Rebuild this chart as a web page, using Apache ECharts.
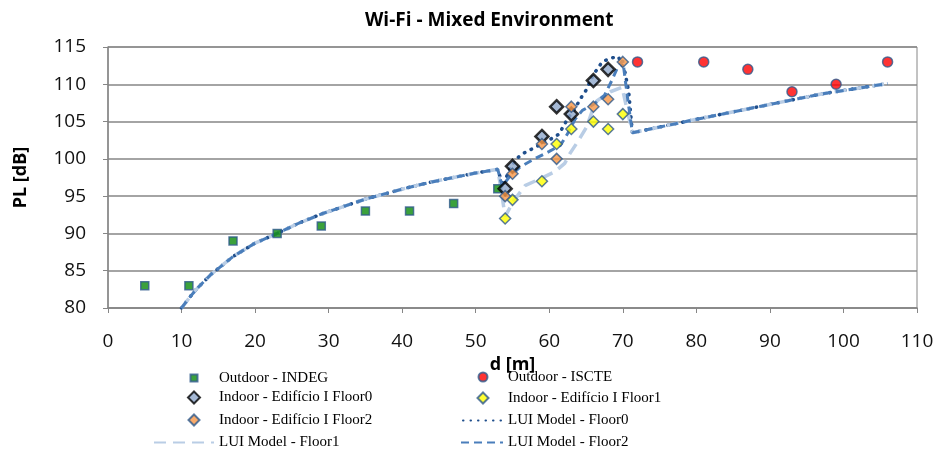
<!DOCTYPE html>
<html>
<head>
<meta charset="utf-8">
<script src="https://cdn.jsdelivr.net/npm/echarts@6/dist/echarts.min.js"></script>
<style>
  html, body { margin: 0; padding: 0; background: #fff; }
  #chart { width: 937px; height: 449px; }
</style>
</head>
<body>
<div id="chart"></div>
<script>
// measured points
var distINDEG = [5, 11, 17, 23, 29, 35, 41, 47, 53];
var plINDEG = [83, 83, 89, 90, 91, 93, 93, 94, 96];
var distISCTE = [72, 81, 87, 93, 99, 106];
var plISCTE = [113, 113, 112, 109, 110, 113];
var distFloor0 = [54, 55, 59, 61, 63, 66, 68];
var plFloor0 = [96, 99, 103, 107, 106, 110.5, 112];
var distFloor1 = [54, 55, 59, 61, 63, 66, 68, 70];
var plFloor1 = [92, 94.5, 97, 102, 104, 105, 104, 106];
var distFloor2 = [54, 55, 59, 61, 63, 66, 68, 70];
var plFloor2 = [95, 98, 102, 100, 107, 107, 108, 113];

// LUI model curves
var modelOutD = [10, 11, 12, 14, 17, 20, 23, 26, 29, 32, 35, 38, 41, 44, 47, 50, 53];
var modelOutPL = [80, 81.3, 82.5, 84.5, 86.9, 88.7, 90, 91.4, 92.6, 93.6, 94.6, 95.4, 96.2, 96.9, 97.5, 98.1, 98.6];
var modelBackD = [71.3, 80, 89, 97, 106];
var modelBackPL = [103.5, 105.3, 107.1, 108.7, 110.1];
var modelF0D = [53.7, 54.5, 55.5, 56.6, 57.8, 60.1, 61.3, 62.4, 63.5, 64.4, 65, 66, 67.2, 68.3, 69.4, 70.3, 70.8];
var modelF0PL = [96.3, 98.4, 100, 100.8, 101.4, 102.6, 103.3, 105.2, 106.8, 108.3, 109.2, 111.3, 113, 113.5, 113.7, 111.6, 109];
var modelF1D = [53.5, 54, 55.2, 56.7, 58.7, 60.8, 62.1, 62.8, 64, 65.1, 65.8, 66.5, 68.3, 69.9, 70.6];
var modelF1PL = [95.5, 92.3, 94.4, 96.4, 97.3, 98.3, 99.4, 100.7, 102.5, 104.3, 106.3, 107.8, 109, 109.6, 106.5];
var modelF2D = [53.6, 54.5, 56, 58, 60, 61.5, 62.5, 63.5, 64.5, 66, 67.5, 68.5, 69.3, 70, 70.6];
var modelF2PL = [96.3, 97.5, 98.9, 100, 101, 101.8, 103.4, 105.3, 106.5, 107.3, 108.5, 110.5, 112.3, 113.2, 108.5];

function pairs(xs, ys) {
    return xs.map(function (x, i) { return [x, ys[i]]; });
}

function modelCurve(d, pl) {
    return pairs(modelOutD.concat(d, modelBackD), modelOutPL.concat(pl, modelBackPL));
}

var chart = echarts.init(document.getElementById('chart'));
var tickFont = { fontFamily: 'Open Sans', fontSize: 19, color: '#111' };
var boldName = { fontFamily: 'Open Sans', fontWeight: 'bold', fontSize: 18, color: '#000' };

// legend: one small legend per entry so icons and texts line up like the original
var legendCols = [{ icon: 193, text: 218 }, { icon: 482, text: 507 }];
var legendRows = [374, 396, 418, 440];

function markerLegend(name, col, row, size) {
    var c = legendCols[col];
    var left = c.icon - size / 2;
    return {
        orient: 'vertical', left: left, top: legendRows[row] - size / 2, padding: 0,
        itemWidth: size, itemHeight: size,
        textStyle: {
            fontFamily: 'Liberation Serif', fontSize: 15, color: '#000',
            padding: [0, 0, 0, c.text - left - size - 5]
        },
        data: [name]
    };
}

function lineLegend(name, col, row, width) {
    var c = legendCols[col];
    return {
        orient: 'vertical', left: c.text - 5 - width, top: legendRows[row] - 5, padding: 0,
        itemWidth: width, itemHeight: 10,
        textStyle: { fontFamily: 'Liberation Serif', fontSize: 15, color: '#000' },
        data: [{ name: name, itemStyle: { color: 'rgba(0,0,0,0)', borderColor: 'rgba(0,0,0,0)', opacity: 0 } }]
    };
}

var option = {
    animation: false,
    title: {
        text: 'Wi-Fi - Mixed Environment',
        left: 360, top: 6,
        textStyle: { fontFamily: 'Open Sans', fontWeight: 'bold', fontSize: 19, color: '#000' }
    },
    grid: {
        left: 108, right: 20, top: 47, bottom: 141,
        show: true, borderColor: '#868686', borderWidth: 1
    },
    xAxis: {
        type: 'value', min: 0, max: 110, interval: 10,
        name: 'd [m]', nameLocation: 'middle', nameGap: 33,
        nameTextStyle: boldName,
        axisLine: { lineStyle: { color: '#868686', width: 1.5 } },
        axisTick: { show: true, length: 5, lineStyle: { color: '#868686' } },
        axisLabel: Object.assign({ margin: 24 }, tickFont),
        splitLine: { show: false }
    },
    yAxis: {
        type: 'value', min: 80, max: 115, interval: 5,
        name: 'PL [dB]', nameLocation: 'middle', nameGap: 78, nameRotate: 90,
        nameTextStyle: boldName,
        axisLine: { show: true, lineStyle: { color: '#868686', width: 1.5 } },
        axisTick: { show: true, length: 5, lineStyle: { color: '#868686' } },
        axisLabel: Object.assign({ margin: 22 }, tickFont),
        splitLine: { show: true, lineStyle: { color: '#868686', width: 1.5 } }
    },
    legend: [
        markerLegend('Outdoor - INDEG', 0, 0, 7),
        markerLegend('Indoor - Edifício I Floor0', 0, 1, 12),
        markerLegend('Indoor - Edifício I Floor2', 0, 2, 11),
        lineLegend('LUI Model - Floor1', 0, 3, 60),
        markerLegend('Outdoor - ISCTE', 1, 0, 9),
        markerLegend('Indoor - Edifício I Floor1', 1, 1, 11),
        lineLegend('LUI Model - Floor0', 1, 2, 40),
        lineLegend('LUI Model - Floor2', 1, 3, 42)
    ],
    series: [
        {
            name: 'LUI Model - Floor0', type: 'line', z: 2,
            symbol: 'none', data: modelCurve(modelF0D, modelF0PL),
            lineStyle: { color: '#1F4E8C', width: 3.5, type: [0.5, 7], cap: 'round' },
            itemStyle: { color: '#1F4E8C' }
        },
        {
            name: 'LUI Model - Floor1', type: 'line', z: 3,
            symbol: 'none', data: modelCurve(modelF1D, modelF1PL),
            lineStyle: { color: '#B9CDE5', width: 3.5, type: [12, 7] },
            itemStyle: { color: '#B9CDE5' }
        },
        {
            name: 'LUI Model - Floor2', type: 'line', z: 4,
            symbol: 'none', data: modelCurve(modelF2D, modelF2PL),
            lineStyle: { color: '#4A7EBB', width: 3, type: [8, 5] },
            itemStyle: { color: '#4A7EBB' }
        },
        {
            name: 'Outdoor - INDEG', type: 'scatter', z: 5,
            symbol: 'rect', symbolSize: 8, data: pairs(distINDEG, plINDEG),
            itemStyle: { color: '#0A8A0A', borderColor: '#2F5A8C', borderWidth: 1.5 }
        },
        {
            name: 'Outdoor - ISCTE', type: 'scatter', z: 5,
            symbol: 'circle', symbolSize: 10, data: pairs(distISCTE, plISCTE),
            itemStyle: { color: '#FF0000', borderColor: '#2F5A8C', borderWidth: 1.5 }
        },
        {
            name: 'Indoor - Edifício I Floor0', type: 'scatter', z: 5,
            symbol: 'diamond', symbolSize: 13, data: pairs(distFloor0, plFloor0),
            itemStyle: { color: '#8EA7CB', borderColor: '#000', borderWidth: 2.5 }
        },
        {
            name: 'Indoor - Edifício I Floor1', type: 'scatter', z: 6,
            symbol: 'diamond', symbolSize: 11, data: pairs(distFloor1, plFloor1),
            itemStyle: { color: '#FFFF00', borderColor: '#2F5A8C', borderWidth: 1.5 }
        },
        {
            name: 'Indoor - Edifício I Floor2', type: 'scatter', z: 6,
            symbol: 'diamond', symbolSize: 11, data: pairs(distFloor2, plFloor2),
            itemStyle: { color: '#F79646', borderColor: '#2F5A8C', borderWidth: 1.5 }
        }
    ]
};

chart.setOption(option);
</script>
</body>
</html>
